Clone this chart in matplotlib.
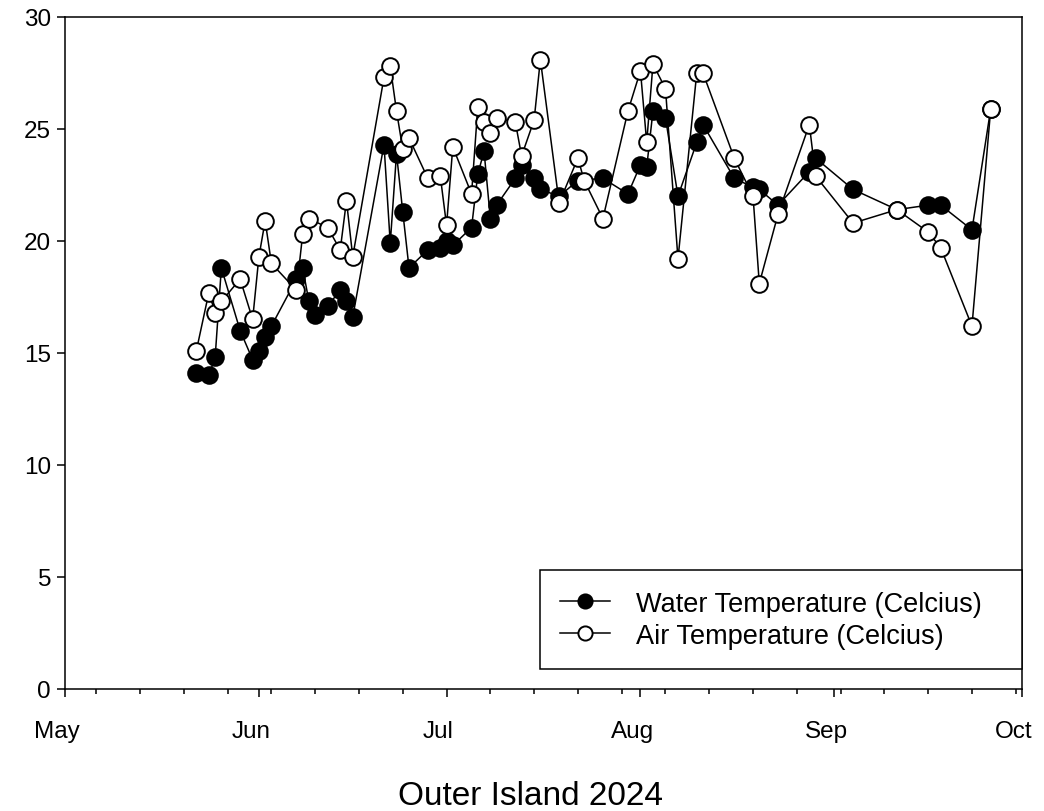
import pandas as pd
import numpy as np
import matplotlib
matplotlib.use("Agg")
import matplotlib.pyplot as plt
import matplotlib.dates as mdates
from matplotlib.transforms import ScaledTranslation

plt.rcParams['font.family'] = ['Liberation Sans', 'DejaVu Sans']

# water temperature (filled markers)
water_dates = ['2024-05-22', '2024-05-24', '2024-05-25', '2024-05-26', '2024-05-29',
               '2024-05-31', '2024-06-01', '2024-06-02', '2024-06-03', '2024-06-07',
               '2024-06-08', '2024-06-09', '2024-06-10', '2024-06-12', '2024-06-14',
               '2024-06-15', '2024-06-16', '2024-06-21', '2024-06-22', '2024-06-23',
               '2024-06-24', '2024-06-25', '2024-06-28', '2024-06-30', '2024-07-01',
               '2024-07-02', '2024-07-05', '2024-07-06', '2024-07-07', '2024-07-08',
               '2024-07-09', '2024-07-12', '2024-07-13', '2024-07-15', '2024-07-16',
               '2024-07-19', '2024-07-22', '2024-07-26', '2024-07-30', '2024-08-01',
               '2024-08-02', '2024-08-03', '2024-08-05', '2024-08-07', '2024-08-10',
               '2024-08-11', '2024-08-16', '2024-08-19', '2024-08-20', '2024-08-23',
               '2024-08-28', '2024-08-29', '2024-09-04', '2024-09-11', '2024-09-16',
               '2024-09-18', '2024-09-23', '2024-09-26']
water_temp = [14.1, 14.0, 14.8, 18.8, 16.0,
              14.7, 15.1, 15.7, 16.2, 18.3,
              18.8, 17.3, 16.7, 17.1, 17.8,
              17.3, 16.6, 24.3, 19.9, 23.9,
              21.3, 18.8, 19.6, 19.7, 20.0,
              19.8, 20.6, 23.0, 24.0, 21.0,
              21.6, 22.8, 23.4, 22.8, 22.3,
              22.0, 22.7, 22.8, 22.1, 23.4,
              23.3, 25.8, 25.5, 22.0, 24.4,
              25.2, 22.8, 22.4, 22.3, 21.6,
              23.1, 23.7, 22.3, 21.4, 21.6,
              21.6, 20.5, 25.9]

# air temperature (open markers)
air_dates = ['2024-05-22', '2024-05-24', '2024-05-25', '2024-05-26', '2024-05-29',
             '2024-05-31', '2024-06-01', '2024-06-02', '2024-06-03', '2024-06-07',
             '2024-06-08', '2024-06-09', '2024-06-12', '2024-06-14', '2024-06-15',
             '2024-06-16', '2024-06-21', '2024-06-22', '2024-06-23', '2024-06-24',
             '2024-06-25', '2024-06-28', '2024-06-30', '2024-07-01', '2024-07-02',
             '2024-07-05', '2024-07-06', '2024-07-07', '2024-07-08', '2024-07-09',
             '2024-07-12', '2024-07-13', '2024-07-15', '2024-07-16', '2024-07-19',
             '2024-07-22', '2024-07-23', '2024-07-26', '2024-07-30', '2024-08-01',
             '2024-08-02', '2024-08-03', '2024-08-05', '2024-08-07', '2024-08-10',
             '2024-08-11', '2024-08-16', '2024-08-19', '2024-08-20', '2024-08-23',
             '2024-08-28', '2024-08-29', '2024-09-04', '2024-09-11', '2024-09-16',
             '2024-09-18', '2024-09-23', '2024-09-26']
air_temp = [15.1, 17.7, 16.8, 17.3, 18.3,
            16.5, 19.3, 20.9, 19.0, 17.8,
            20.3, 21.0, 20.6, 19.6, 21.8,
            19.3, 27.3, 27.8, 25.8, 24.1,
            24.6, 22.8, 22.9, 20.7, 24.2,
            22.1, 26.0, 25.3, 24.8, 25.5,
            25.3, 23.8, 25.4, 28.1, 21.7,
            23.7, 22.7, 21.0, 25.8, 27.6,
            24.4, 27.9, 26.8, 19.2, 27.5,
            27.5, 23.7, 22.0, 18.1, 21.2,
            25.2, 22.9, 20.8, 21.4, 20.4,
            19.7, 16.2, 25.9]

water_label = 'Water Temperature (Celcius)'
air_label = 'Air Temperature (Celcius)'
title = 'Outer Island 2024'

fig = plt.figure(figsize=(10.44, 8.12), dpi=100)
ax = fig.add_axes([65/1044, 122/812, (1022-65)/1044, (690-18)/812])

ax.plot(pd.to_datetime(water_dates), water_temp, color='black', lw=1.1,
        marker='o', ms=12, mfc='black', mec='black', mew=1.4, label=water_label)
ax.plot(pd.to_datetime(air_dates), air_temp, color='black', lw=1.1,
        marker='o', ms=12, mfc='white', mec='black', mew=1.4, label=air_label)

ax.set_xlim(pd.Timestamp('2024-05-01'), pd.Timestamp('2024-10-01'))
ax.set_ylim(0, 30)
ax.set_yticks(np.arange(0, 31, 5))

ax.xaxis.set_major_locator(mdates.MonthLocator())
ax.xaxis.set_major_formatter(mdates.DateFormatter('%b'))
ax.xaxis.set_minor_locator(mdates.WeekdayLocator(byweekday=mdates.MO))

for s in ax.spines.values():
    s.set_linewidth(1.1)
ax.tick_params(axis='both', which='major', direction='out', length=6, width=1.1,
               labelsize=17.5)
ax.tick_params(axis='y', which='major', pad=4)
ax.tick_params(axis='x', which='major', pad=16)
ax.tick_params(axis='x', which='minor', direction='out', length=3.5, width=1.1)

# month labels sit a little left of their ticks in the original
shift = ScaledTranslation(-0.08, 0, fig.dpi_scale_trans)
for lbl in ax.get_xticklabels():
    lbl.set_transform(lbl.get_transform() + shift)

leg = ax.legend(loc='lower left', bbox_to_anchor=(475/957, 0.03, 482/957, 0.1),
                mode='expand', borderaxespad=0,
                fontsize=19.5, fancybox=False, framealpha=1, edgecolor='black',
                handlelength=1.85, handletextpad=0.95, borderpad=0.75,
                labelspacing=0.22, markerscale=0.85)
leg.get_frame().set_linewidth(1.1)

fig.text(530/1044, 1 - 797/812, title, ha='center', va='center', fontsize=24)

fig.savefig('out.png', dpi=100)
